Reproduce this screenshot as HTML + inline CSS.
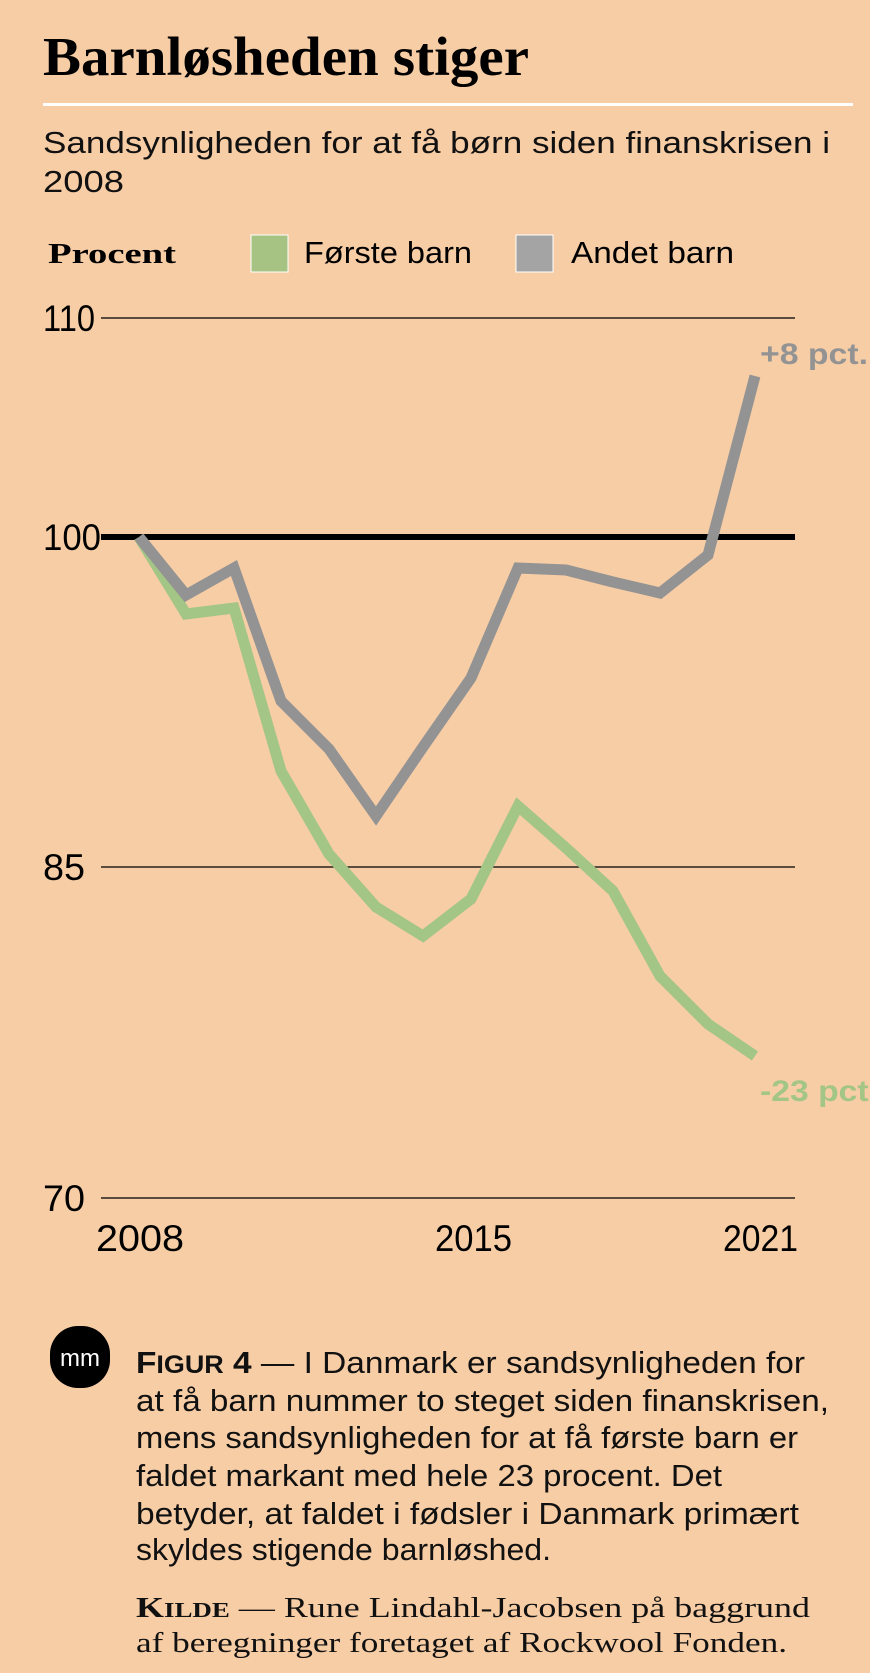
<!DOCTYPE html>
<html><head><meta charset="utf-8"><style>
html,body{margin:0;padding:0;background:#f7cda6;}
svg{display:block;}
</style></head><body>
<svg width="870" height="1673" viewBox="0 0 870 1673" xmlns="http://www.w3.org/2000/svg">
<rect width="870" height="1673" fill="#f7cda6"/>
<text x="43" y="75" font-family="Liberation Serif, serif" font-weight="bold" font-size="55" textLength="486" lengthAdjust="spacingAndGlyphs" fill="#000">Barnløsheden stiger</text>
<rect x="43" y="103" width="810" height="3" fill="#fff"/>
<g font-family="Liberation Sans, sans-serif" font-size="31" fill="#111">
<text x="43" y="153" textLength="787" lengthAdjust="spacingAndGlyphs">Sandsynligheden for at få børn siden finanskrisen i</text>
<text x="43" y="192" textLength="81" lengthAdjust="spacingAndGlyphs">2008</text>
</g>
<text x="48" y="263" font-family="Liberation Serif, serif" font-weight="bold" font-size="29" textLength="128" lengthAdjust="spacingAndGlyphs">Procent</text>
<rect x="251" y="235" width="37" height="37" fill="#a6c383" stroke="#fff" stroke-width="1"/>
<text x="304" y="263" font-family="Liberation Sans, sans-serif" font-size="31" textLength="168" lengthAdjust="spacingAndGlyphs">Første barn</text>
<rect x="516" y="235" width="37" height="37" fill="#a4a4a4" stroke="#fff" stroke-width="1"/>
<text x="571" y="263" font-family="Liberation Sans, sans-serif" font-size="31" textLength="163" lengthAdjust="spacingAndGlyphs">Andet barn</text>
<g stroke="#000" stroke-width="1.2">
<line x1="101" y1="318" x2="795" y2="318"/>
<line x1="101" y1="867" x2="795" y2="867"/>
<line x1="101" y1="1198" x2="795" y2="1198"/>
</g>
<g font-family="Liberation Sans, sans-serif" font-size="37" fill="#000">
<text x="43" y="331" textLength="52" lengthAdjust="spacingAndGlyphs">110</text>
<text x="43" y="550" textLength="58" lengthAdjust="spacingAndGlyphs">100</text>
<text x="43" y="880" textLength="42" lengthAdjust="spacingAndGlyphs">85</text>
<text x="43" y="1211" textLength="42" lengthAdjust="spacingAndGlyphs">70</text>
<text x="96" y="1251" textLength="88" lengthAdjust="spacingAndGlyphs">2008</text>
<text x="435" y="1251" textLength="77" lengthAdjust="spacingAndGlyphs">2015</text>
<text x="723" y="1251" textLength="75" lengthAdjust="spacingAndGlyphs">2021</text>
</g>
<line x1="101" y1="537" x2="795" y2="537" stroke="#000" stroke-width="6"/>
<polyline fill="none" stroke="#a3c585" stroke-width="11" stroke-linejoin="miter" points="139,537 186,614 234,608 281,771 329,854 376,907 423,936 471,899 518,806 566,848 613,891 660,976 708,1024 755,1056"/>
<polyline fill="none" stroke="#939393" stroke-width="11" stroke-linejoin="miter" points="139,537 186,595 234,568 281,701 329,749 376,816 423,747 471,678 518,568 566,570 613,582 660,593 708,555 755,376"/>
<text x="760" y="364" font-family="Liberation Sans, sans-serif" font-weight="bold" font-size="30" fill="#939393" textLength="108" lengthAdjust="spacingAndGlyphs">+8 pct.</text>
<text x="760" y="1101" font-family="Liberation Sans, sans-serif" font-weight="bold" font-size="30" fill="#a3c585" textLength="118" lengthAdjust="spacingAndGlyphs">-23 pct.</text>
<rect x="50" y="1326" width="60" height="62" rx="28" fill="#000"/>
<text x="80" y="1366" text-anchor="middle" font-family="Liberation Sans, sans-serif" font-size="24" fill="#fff" textLength="40" lengthAdjust="spacingAndGlyphs">mm</text>
<g font-family="Liberation Sans, sans-serif" font-size="31" fill="#111">
<text x="136" y="1373" textLength="669" lengthAdjust="spacingAndGlyphs"><tspan font-weight="bold">F</tspan><tspan font-weight="bold" font-size="25">IGUR</tspan><tspan font-weight="bold"> 4</tspan> — I Danmark er sandsynligheden for</text>
<text x="136" y="1411" textLength="693" lengthAdjust="spacingAndGlyphs">at få barn nummer to steget siden finanskrisen,</text>
<text x="136" y="1448" textLength="662" lengthAdjust="spacingAndGlyphs">mens sandsynligheden for at få første barn er</text>
<text x="136" y="1486" textLength="586" lengthAdjust="spacingAndGlyphs">faldet markant med hele 23 procent. Det</text>
<text x="136" y="1524" textLength="663" lengthAdjust="spacingAndGlyphs">betyder, at faldet i fødsler i Danmark primært</text>
<text x="136" y="1560" textLength="415" lengthAdjust="spacingAndGlyphs">skyldes stigende barnløshed.</text>
</g>
<g font-family="Liberation Serif, serif" font-size="28" fill="#111">
<text x="136" y="1617" textLength="674" lengthAdjust="spacingAndGlyphs"><tspan font-weight="bold">K</tspan><tspan font-weight="bold" font-size="21">ILDE</tspan> — Rune Lindahl-Jacobsen på baggrund</text>
<text x="136" y="1652" textLength="651" lengthAdjust="spacingAndGlyphs">af beregninger foretaget af Rockwool Fonden.</text>
</g>
</svg>
</body></html>
